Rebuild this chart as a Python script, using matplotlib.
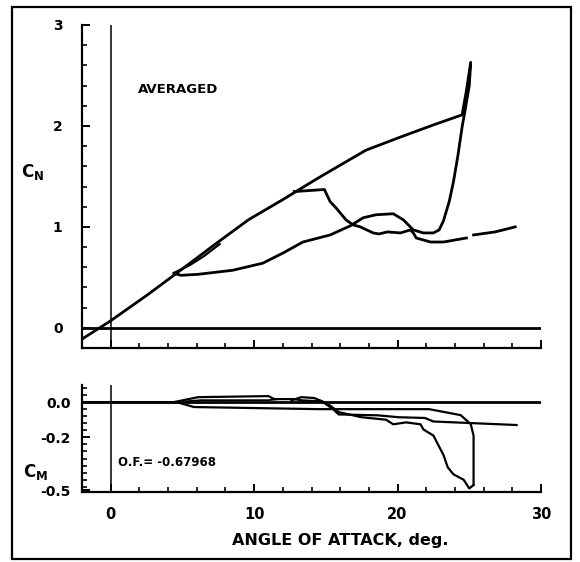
import matplotlib
matplotlib.use('Agg')
import matplotlib.pyplot as plt
import numpy as np
from matplotlib.ticker import MultipleLocator
from matplotlib.patches import Rectangle

nan = np.nan

# ---- normal force coefficient C_N vs angle of attack (deg) ----
# main loop: upstroke, stall spike, drop, downstroke back to reattachment
cn_main_alpha = [-2.2, 0.0, 2.5, 4.4, 7.3, 9.6, 12.0, 14.3, 15.5, 17.8, 20.2, 22.5, 24.5,
                 24.8, 25.1, 25.0, 24.7, 24.5, 24.2, 23.9, 23.6, 23.2, 22.9, 22.5, 21.8,
                 21.1, 20.4, 19.7, 18.5, 17.6, 16.7, 15.3, 13.4, 12.0, 10.6, 8.5, 6.1, 4.9, 4.4]
cn_main = [-0.13, 0.07, 0.32, 0.52, 0.83, 1.07, 1.27, 1.47, 1.57, 1.76, 1.89, 2.01, 2.11,
           2.35, 2.63, 2.40, 2.15, 1.99, 1.70, 1.45, 1.25, 1.06, 0.97, 0.94, 0.94,
           0.97, 1.07, 1.13, 1.12, 1.09, 1.01, 0.92, 0.85, 0.74, 0.64, 0.57, 0.53, 0.52, 0.54]

# second branch leaving the upstroke near 13 deg and running out to 28 deg
cn_branch_alpha = [12.8, 14.9, 15.3, 15.7, 16.4, 16.9, 17.4, 18.3, 18.7, 19.3, 20.2, 20.9,
                   21.1, 21.3, 22.3, 23.2, 24.8, nan, 25.3, 26.8, 28.2]
cn_branch = [1.35, 1.37, 1.25, 1.19, 1.07, 1.02, 1.00, 0.94, 0.93, 0.95, 0.94, 0.97,
             0.94, 0.89, 0.85, 0.85, 0.89, nan, 0.92, 0.95, 1.00]

# thin loop near reattachment
cn_small_alpha = [4.5, 5.5, 6.5, 7.6]
cn_small = [0.55, 0.62, 0.71, 0.83]

# ---- pitching moment coefficient C_M ----
cm_up_alpha = [-2.0, 4.6, 5.8, 14.5, 15.9, 22.2, 24.4, 25.1, 25.3, 25.3]
cm_up = [0.0, 0.0, -0.028, -0.04, -0.04, -0.04, -0.074, -0.125, -0.19, -0.47]

cm_down_alpha = [25.3, 25.0, 24.6, 23.9, 23.5, 23.2, 22.5, 21.8, 21.6, 20.6, 19.7, 19.2,
                 17.5, 15.9, 15.3, 14.7, 14.2, 13.3, 12.8, 11.4, 11.0, 6.1, 4.4]
cm_down = [-0.47, -0.49, -0.44, -0.41, -0.37, -0.30, -0.19, -0.155, -0.126, -0.115, -0.126, -0.10,
           -0.086, -0.057, -0.02, 0.006, 0.006, 0.010, 0.017, 0.017, 0.034, 0.028, 0.0]

cm_inner_alpha = [5.2, 6.3, 11.0, 11.6]
cm_inner = [0.004, 0.011, 0.011, 0.016]

cm_branch_alpha = [12.6, 13.3, 14.2, 14.7, 15.5, 15.9, 18.6, 20.1, 21.9, 22.5, 28.3]
cm_branch = [0.01, 0.028, 0.023, 0.006, -0.04, -0.07, -0.075, -0.086, -0.09, -0.11, -0.13]

x_ticks = [0, 10, 20, 30]
x_ticklabels = ['0', '10', '20', '30']
cn_ticks = [0, 1, 2, 3]
cn_ticklabels = ['0', '1', '2', '3']
cm_ticks = [0.0, -0.2, -0.5]
cm_ticklabels = ['0.0', '-0.2', '-0.5']

W, H = 580, 562
fig = plt.figure(figsize=(W / 100, H / 100), dpi=100)
fig.patch.set_facecolor('white')

ax1 = fig.add_axes([82 / W, 1 - 348 / H, (541 - 82) / W, (348 - 25) / H])
ax2 = fig.add_axes([82 / W, 1 - 492 / H, (541 - 82) / W, (492 - 385) / H])

for ax in (ax1, ax2):
    ax.spines['top'].set_visible(False)
    ax.spines['right'].set_visible(False)
    ax.spines['left'].set_linewidth(1.6)
    ax.spines['bottom'].set_linewidth(1.6)
    ax.set_xlim(-2, 30)
    ax.set_xticks(x_ticks)
    ax.xaxis.set_minor_locator(MultipleLocator(2))
    ax.tick_params(which='major', direction='in', length=6, width=1.4)
    ax.tick_params(which='minor', direction='in', length=3.5, width=1.2)
    ax.patch.set_alpha(0)

# top panel
ax1.set_ylim(-0.2, 3.0)
ax1.set_yticks(cn_ticks)
ax1.set_yticklabels(cn_ticklabels, fontsize=10, fontweight='bold')
ax1.yaxis.set_minor_locator(MultipleLocator(0.2))
ax1.tick_params(axis='y', pad=14)
ax1.tick_params(axis='x', labelbottom=False)
ax1.axhline(0, color='black', lw=2.0)
ax1.axvline(0, color='black', lw=1.1)
ax1.plot(cn_main_alpha, cn_main, color='black', lw=2.0, solid_joinstyle='round')
ax1.plot(cn_branch_alpha, cn_branch, color='black', lw=2.0, solid_joinstyle='round')
ax1.plot(cn_small_alpha, cn_small, color='black', lw=1.6)
ax1.text(1.9, 2.36, 'AVERAGED', fontsize=9.5, fontweight='bold', va='center')

# bottom panel
ax2.set_ylim(-0.51, 0.097)
ax2.set_yticks(cm_ticks)
ax2.set_yticklabels(cm_ticklabels, fontsize=10, fontweight='bold')
ax2.yaxis.set_minor_locator(MultipleLocator(0.04))
ax2.tick_params(axis='y', pad=8)
ax2.set_xticklabels(x_ticklabels, fontsize=10.5, fontweight='bold')
ax2.tick_params(axis='x', pad=11)
ax2.axhline(0, color='black', lw=2.0)
ax2.axvline(0, color='black', lw=1.1)
ax2.plot(cm_up_alpha, cm_up, color='black', lw=1.6)
ax2.plot(cm_down_alpha, cm_down, color='black', lw=1.6)
ax2.plot(cm_inner_alpha, cm_inner, color='black', lw=1.3)
ax2.plot(cm_branch_alpha, cm_branch, color='black', lw=1.6)
ax2.text(0.5, -0.34, 'O.F.= -0.67968', fontsize=8.5, fontweight='bold', va='center')

# axis titles
fig.text(33 / W, 1 - 172 / H, r'$\mathbf{C_N}$', fontsize=12, ha='center', va='center')
fig.text(36 / W, 1 - 472 / H, r'$\mathbf{C_M}$', fontsize=12, ha='center', va='center')
fig.text(340 / W, 1 - 540 / H, 'ANGLE OF ATTACK, deg.', fontsize=11.5, fontweight='bold',
         ha='center', va='center')

# frame around the figure
fig.patches.append(Rectangle((12 / W, 1 - 559 / H), (571 - 12) / W, (559 - 7) / H,
                             transform=fig.transFigure, fill=False, lw=1.6, color='black'))

fig.savefig('out.png', dpi=100)
